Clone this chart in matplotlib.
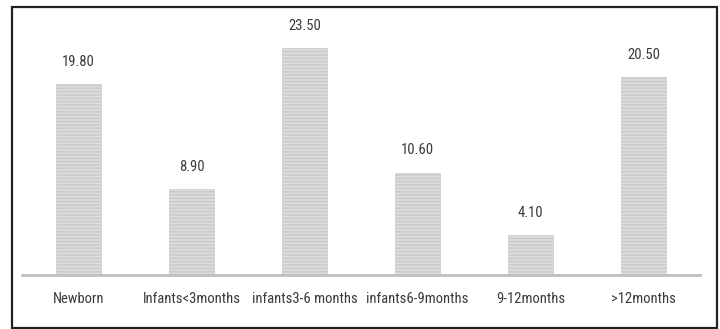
import matplotlib
matplotlib.use('Agg')
import matplotlib.pyplot as plt
from matplotlib import font_manager
from matplotlib.patches import Rectangle

categories = ['Newborn', 'Infants<3months', 'infants3-6 months', 'infants6-9months', '9-12months', '>12months']
values = [19.80, 8.90, 23.50, 10.60, 4.10, 20.50]

# fuente estrecha si está disponible
names = {f.name for f in font_manager.fontManager.ttflist}
narrow = [n for n in ['Roboto Condensed', 'Liberation Sans Narrow'] if n in names]
plt.rcParams['font.family'] = narrow + ['DejaVu Sans']
plt.rcParams['hatch.color'] = '#a0a0a0'
plt.rcParams['hatch.linewidth'] = 1.3

fig = plt.figure(figsize=(7.2, 3.29), dpi=100)
ax = fig.add_axes([0.0306, 0.164, 0.9417, 0.763])

x = range(len(categories))
bars = ax.bar(x, values, width=0.4, color='#dedede', edgecolor='#cccccc',
              linewidth=0.5, hatch='-----', zorder=2)

for bar, val in zip(bars, values):
    ax.annotate(f'{val:.2f}', (bar.get_x() + bar.get_width() / 2, bar.get_height()),
                xytext=(0, 11), textcoords='offset points', ha='center', va='bottom',
                fontsize=10.5, color='#3a3a3a')

ax.set_xlim(-0.5, 5.5)
ax.set_ylim(0, 26)
ax.set_xticks(list(x))
ax.set_xticklabels(categories, fontsize=10.5, color='#3a3a3a')
ax.tick_params(axis='x', length=0, pad=12)
ax.set_yticks([])
for s in ['top', 'right', 'left']:
    ax.spines[s].set_visible(False)
ax.spines['bottom'].set_color('#bfbfbf')
ax.spines['bottom'].set_linewidth(2)

# marco exterior
fig.patches.append(Rectangle((12 / 720, 1 / 329), 705 / 720, 321 / 329,
                             transform=fig.transFigure, fill=False,
                             edgecolor='#222222', linewidth=1.6))

plt.savefig('out.png', dpi=100)
plt.close()
